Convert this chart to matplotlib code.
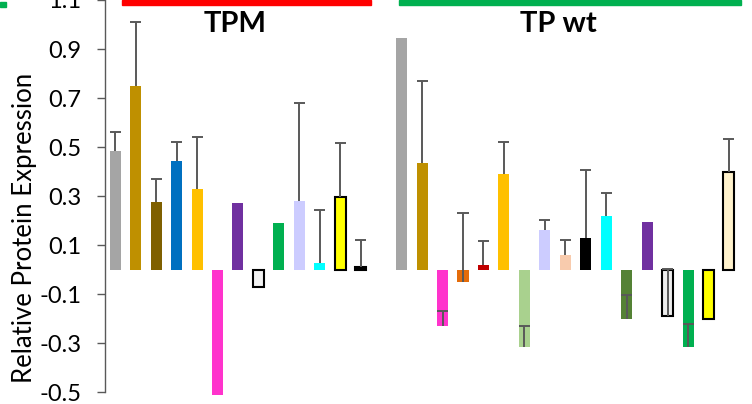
import numpy as np
import matplotlib.pyplot as plt
from matplotlib.patches import Rectangle

plt.rcParams['font.family'] = ['Lato', 'DejaVu Sans']
plt.rcParams['axes.unicode_minus'] = False

# TPM group
tpm_vals = [0.484, 0.750, 0.276, 0.444, 0.329, -0.510, 0.272, -0.072, 0.191, 0.280, 0.027, 0.297, 0.012]
tpm_err = [0.077, 0.260, 0.094, 0.075, 0.213, 0, 0, 0, 0, 0.400, 0.218, 0.219, 0.110]
tpm_colors = ['#A5A5A5', '#BF9000', '#7F6000', '#0070C0', '#FFC000', '#FF33CC', '#7030A0',
              '#F2F2F2', '#00B050', '#CCCCFF', '#00FFFF', '#FFFF00', '#000000']
tpm_edged = [7, 11, 12]

# TP wt group
tpwt_vals = [0.946, 0.435, -0.228, -0.049, 0.019, 0.391, -0.314, 0.162, 0.060, 0.129, 0.219,
             -0.201, 0.195, -0.189, -0.314, -0.202, 0.399]
tpwt_err = [0, 0.334, 0.061, 0.280, 0.098, 0.130, 0.084, 0.042, 0.062, 0.277, 0.095,
            0.099, 0, 0.192, 0.092, 0, 0.133]
tpwt_colors = ['#A5A5A5', '#BF9000', '#FF33CC', '#E46C0A', '#C00000', '#FFC000', '#A9D18E',
               '#CCCCFF', '#F8CBAD', '#000000', '#00FFFF', '#548235', '#7030A0', '#EDEDED',
               '#00B050', '#FFFF00', '#FFF2CC']
tpwt_edged = [13, 15, 16]

yticks = [-0.5, -0.3, -0.1, 0.1, 0.3, 0.5, 0.7, 0.9, 1.1]

# one slot left empty between the two groups
x_tpm = np.arange(len(tpm_vals))
x_tpwt = np.arange(len(tpwt_vals)) + len(tpm_vals) + 1
xs = np.concatenate([x_tpm, x_tpwt])
vals = np.array(tpm_vals + tpwt_vals)
errs = np.array(tpm_err + tpwt_err)
colors = tpm_colors + tpwt_colors
edged = tpm_edged + [i + len(tpm_vals) for i in tpwt_edged]

W, H = 752, 404
fig = plt.figure(figsize=(W / 100, H / 100), dpi=100)
ax = fig.add_axes([105 / W, 11.8 / H, 635 / W, 392.2 / H])

bw = 0.54
for i, (x, v, c) in enumerate(zip(xs, vals, colors)):
    if i in edged:
        ax.bar(x, v, width=bw, color=c, edgecolor='black', linewidth=1.5, zorder=2, clip_on=False)
    else:
        ax.bar(x, v, width=bw, color=c, linewidth=0, zorder=2, clip_on=False)

has_err = errs > 0
ax.vlines(xs[has_err], vals[has_err], vals[has_err] + errs[has_err], color='#595959', lw=1.4, zorder=3)
ax.hlines(vals[has_err] + errs[has_err], xs[has_err] - bw / 2, xs[has_err] + bw / 2,
          color='#595959', lw=1.4, zorder=3)

ax.set_xlim(-0.5, 30.54)
ax.set_ylim(-0.5, 1.1)
ax.set_yticks(yticks)
ax.set_yticklabels([f'{t:.1f}' for t in yticks])
ax.tick_params(axis='y', direction='out', length=6, width=1, color='#595959', labelsize=17, pad=11)
ax.set_xticks([])
for s in ['top', 'right', 'bottom']:
    ax.spines[s].set_visible(False)
ax.spines['left'].set_color('#595959')
ax.spines['left'].set_linewidth(1)

fig.text(25 / W, 1 - 228 / H, 'Relative Protein Expression', rotation=90,
         ha='center', va='center', fontsize=18.5)
fig.text(235 / W, 1 - 24 / H, 'TPM', ha='center', va='center', fontsize=21, fontweight='bold')
fig.text(558 / W, 1 - 24 / H, 'TP wt', ha='center', va='center', fontsize=21, fontweight='bold')

# group marker bars along the top edge
fig.patches.append(Rectangle((122 / W, 1 - 5 / H), 249 / W, 5 / H, color='#FF0000',
                             transform=fig.transFigure, figure=fig))
fig.patches.append(Rectangle((399 / W, 1 - 5 / H), 342 / W, 5 / H, color='#00B050',
                             transform=fig.transFigure, figure=fig))
fig.patches.append(Rectangle((0, 1 - 7 / H), 6 / W, 5 / H, color='#00B050',
                             transform=fig.transFigure, figure=fig))

fig.savefig('out.png', dpi=100)
